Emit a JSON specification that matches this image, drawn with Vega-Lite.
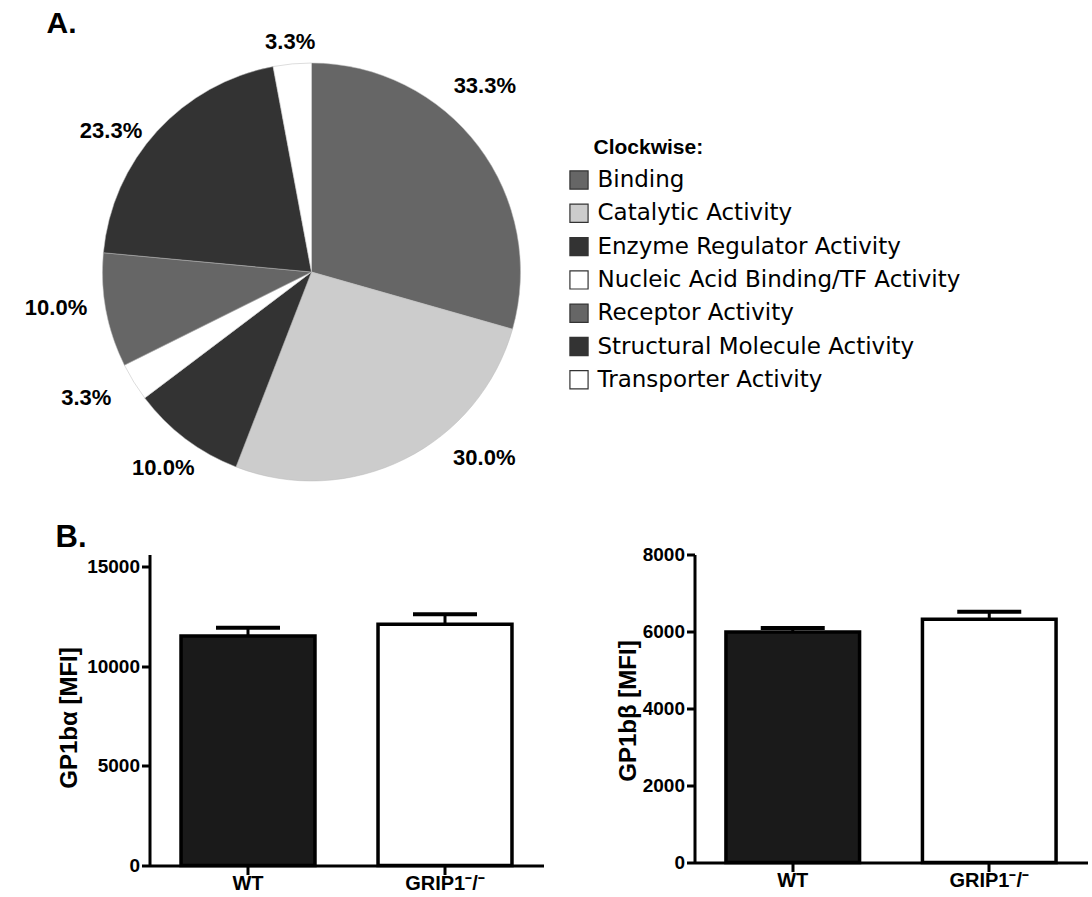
{
  "$schema": "https://vega.github.io/schema/vega-lite/v6.json",
  "background": "white",
  "padding": {"left": 24.5, "top": 3, "right": 5, "bottom": 5},
  "bounds": "flush",
  "spacing": 72.5,
  "resolve": {"scale": {"fill": "independent"}, "legend": {"fill": "independent"}},
  "datasets": {
    "pie": [
      {"idx": 1, "category": "Binding", "count": 10, "pct": "33.3%"},
      {"idx": 2, "category": "Catalytic Activity", "count": 9, "pct": "30.0%"},
      {"idx": 3, "category": "Enzyme Regulator Activity", "count": 3, "pct": "10.0%"},
      {"idx": 4, "category": "Nucleic Acid Binding/TF Activity", "count": 1, "pct": "3.3%"},
      {"idx": 5, "category": "Receptor Activity", "count": 3, "pct": "10.0%"},
      {"idx": 6, "category": "Structural Molecule Activity", "count": 7, "pct": "23.3%"},
      {"idx": 7, "category": "Transporter Activity", "count": 1, "pct": "3.3%"}
    ],
    "gp1ba": [
      {"genotype": "WT", "mean": 11510, "upper": 11930},
      {"genotype": "GRIP1⁻/⁻", "mean": 12100, "upper": 12600}
    ],
    "gp1bb": [
      {"genotype": "WT", "mean": 5990, "upper": 6090},
      {"genotype": "GRIP1⁻/⁻", "mean": 6320, "upper": 6510}
    ]
  },
  "config": {
    "view": {"stroke": null},
    "font": "Liberation Sans",
    "axis": {
      "domainColor": "black", "domainWidth": 3, "tickColor": "black", "tickWidth": 3,
      "labelColor": "black", "labelFontWeight": "bold", "labelFont": "Liberation Sans",
      "titleColor": "black", "titleFontWeight": "bold", "titleFont": "Liberation Sans", "grid": false
    },
    "axisX": {"tickSize": 9, "labelFontSize": 20, "labelPadding": -1, "labelAngle": 0},
    "axisY": {"tickSize": 8, "labelFontSize": 19, "labelPadding": 2, "titleFontSize": 24, "labelFlush": false, "labelOverlap": false},
    "legend": {
      "titleFontSize": 21, "titleFontWeight": "bold", "titleColor": "black", "titleFont": "Liberation Sans",
      "titlePadding": 11, "labelFontSize": 23, "labelColor": "black", "labelFont": "DejaVu Sans",
      "symbolType": "square", "symbolSize": 330, "symbolStrokeColor": "#333333", "symbolStrokeWidth": 1.2,
      "labelOffset": 7, "rowPadding": 9.3, "labelLimit": 600, "titleLimit": 400, "padding": 0
    }
  },
  "vconcat": [
    {
      "width": 324,
      "height": 420,
      "title": {"text": "A.", "anchor": "start", "frame": "group", "dx": -103, "offset": -60, "fontSize": 30, "fontWeight": "bold", "color": "black", "baseline": "alphabetic", "font": "Liberation Sans"},
      "data": {"name": "pie"},
      "layer": [
        {
          "mark": {"type": "arc", "radius": 209, "stroke": "#bbbbbb", "strokeWidth": 0.5},
          "encoding": {
            "theta": {"field": "count", "type": "quantitative", "stack": true},
            "order": {"field": "idx", "type": "quantitative"},
            "fill": {
              "field": "category", "type": "nominal",
              "scale": {
                "domain": ["Binding", "Catalytic Activity", "Enzyme Regulator Activity", "Nucleic Acid Binding/TF Activity", "Receptor Activity", "Structural Molecule Activity", "Transporter Activity"],
                "range": ["#666666", "#cccccc", "#333333", "#ffffff", "#666666", "#333333", "#ffffff"]
              },
              "legend": {"orient": "none", "legendX": 418, "legendY": 74.5, "title": "Clockwise:",
                "encode": {"title": {"update": {"dx": {"value": 26}}}}}
            }
          }
        },
        {
          "mark": {"type": "text", "radius": 258, "thetaOffset": 0.045, "fontSize": 22, "fontWeight": "bold", "font": "Liberation Sans", "color": "black"},
          "encoding": {
            "theta": {"field": "count", "type": "quantitative", "stack": true},
            "order": {"field": "idx", "type": "quantitative"},
            "text": {"condition": {"test": "datum.idx == 4 || datum.idx == 5", "field": "pct", "type": "nominal"}, "value": ""}
          }
        },
        {
          "mark": {"type": "text", "radius": 246, "fontSize": 22, "fontWeight": "bold", "font": "Liberation Sans", "color": "black"},
          "encoding": {
            "theta": {"field": "count", "type": "quantitative", "stack": true},
            "order": {"field": "idx", "type": "quantitative"},
            "text": {"condition": {"test": "datum.idx == 3", "field": "pct", "type": "nominal"}, "value": ""}
          }
        },
        {
          "mark": {"type": "text", "radius": 254, "thetaOffset": -0.173, "fontSize": 22, "fontWeight": "bold", "font": "Liberation Sans", "color": "black"},
          "encoding": {
            "theta": {"field": "count", "type": "quantitative", "stack": true},
            "order": {"field": "idx", "type": "quantitative"},
            "text": {"condition": {"test": "datum.idx == 1", "field": "pct", "type": "nominal"}, "value": ""}
          }
        },
        {
          "mark": {"type": "text", "radius": 254, "thetaOffset": -0.286, "fontSize": 22, "fontWeight": "bold", "font": "Liberation Sans", "color": "black"},
          "encoding": {
            "theta": {"field": "count", "type": "quantitative", "stack": true},
            "order": {"field": "idx", "type": "quantitative"},
            "text": {"condition": {"test": "datum.idx == 2", "field": "pct", "type": "nominal"}, "value": ""}
          }
        },
        {
          "mark": {"type": "text", "radius": 245, "thetaOffset": -0.127, "fontSize": 22, "fontWeight": "bold", "font": "Liberation Sans", "color": "black"},
          "encoding": {
            "theta": {"field": "count", "type": "quantitative", "stack": true},
            "order": {"field": "idx", "type": "quantitative"},
            "text": {"condition": {"test": "datum.idx == 6", "field": "pct", "type": "nominal"}, "value": ""}
          }
        },
        {
          "mark": {"type": "text", "radius": 231, "fontSize": 22, "fontWeight": "bold", "font": "Liberation Sans", "color": "black"},
          "encoding": {
            "theta": {"field": "count", "type": "quantitative", "stack": true},
            "order": {"field": "idx", "type": "quantitative"},
            "text": {"condition": {"test": "datum.idx == 7", "field": "pct", "type": "nominal"}, "value": ""}
          }
        }
      ]
    },
    {
      "hconcat": [
        {
          "width": 394,
          "height": 311,
          "title": {"text": "B.", "anchor": "start", "frame": "group", "dx": -94, "offset": -23, "fontSize": 31, "fontWeight": "bold", "color": "black", "baseline": "alphabetic", "font": "Liberation Sans"},
          "data": {"name": "gp1ba"},
          "encoding": {
            "x": {"field": "genotype", "type": "nominal", "sort": ["WT", "GRIP1⁻/⁻"], "scale": {"paddingInner": 0.32, "paddingOuter": 0.16}, "axis": {"title": null}}
          },
          "layer": [
            {
              "mark": {"type": "bar", "stroke": "black", "strokeWidth": 3.5},
              "encoding": {
                "y": {"field": "mean", "type": "quantitative", "scale": {"domain": [0, 15602], "nice": false},
                  "axis": {"values": [0, 5000, 10000, 15000], "format": "d", "title": "GP1bα [MFI]", "titleX": -80, "titleY": 163, "titleBaseline": "middle", "titleAngle": -90, "titleAlign": "center"}},
                "fill": {"field": "genotype", "type": "nominal", "scale": {"domain": ["WT", "GRIP1⁻/⁻"], "range": ["#1a1a1a", "#ffffff"]}, "legend": null}
              }
            },
            {
              "mark": {"type": "rule", "strokeWidth": 3, "color": "black"},
              "encoding": {"y": {"field": "mean", "type": "quantitative"}, "y2": {"field": "upper"}}
            },
            {
              "mark": {"type": "tick", "size": 64, "thickness": 4, "color": "black", "opacity": 1},
              "encoding": {"y": {"field": "upper", "type": "quantitative"}}
            }
          ]
        },
        {
          "width": 393,
          "height": 308,
          "data": {"name": "gp1bb"},
          "encoding": {
            "x": {"field": "genotype", "type": "nominal", "sort": ["WT", "GRIP1⁻/⁻"], "scale": {"paddingInner": 0.32, "paddingOuter": 0.16}, "axis": {"title": null}}
          },
          "layer": [
            {
              "mark": {"type": "bar", "stroke": "black", "strokeWidth": 3.5},
              "encoding": {
                "y": {"field": "mean", "type": "quantitative", "scale": {"domain": [0, 8000], "nice": false},
                  "axis": {"values": [0, 2000, 4000, 6000, 8000], "format": "d", "title": "GP1bβ [MFI]", "titleX": -66, "titleY": 156, "titleBaseline": "middle", "titleAngle": -90, "titleAlign": "center"}},
                "fill": {"field": "genotype", "type": "nominal", "scale": {"domain": ["WT", "GRIP1⁻/⁻"], "range": ["#1a1a1a", "#ffffff"]}, "legend": null}
              }
            },
            {
              "mark": {"type": "rule", "strokeWidth": 3, "color": "black"},
              "encoding": {"y": {"field": "mean", "type": "quantitative"}, "y2": {"field": "upper"}}
            },
            {
              "mark": {"type": "tick", "size": 64, "thickness": 4, "color": "black", "opacity": 1},
              "encoding": {"y": {"field": "upper", "type": "quantitative"}}
            }
          ]
        }
      ],
      "spacing": 151,
      "bounds": "flush"
    }
  ]
}
